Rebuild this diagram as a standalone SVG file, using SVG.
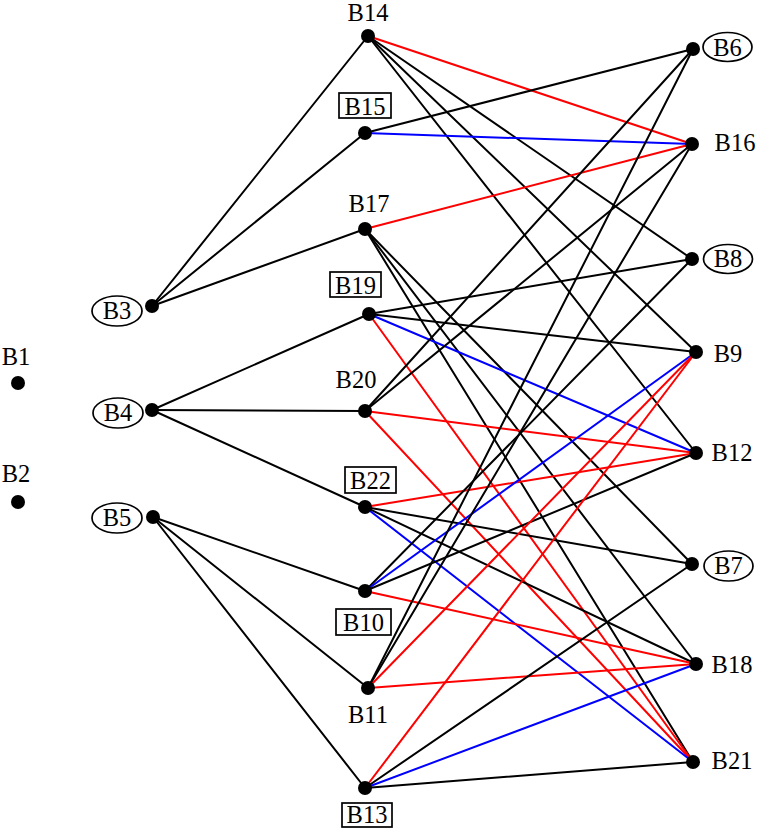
<svg xmlns="http://www.w3.org/2000/svg" width="758" height="830" viewBox="0 0 758 830">
<style>
.e{stroke-width:2;fill:none;stroke-linecap:round}
.k{stroke:#000}
.r{stroke:#ff0000}
.b{stroke:#0000ff}
.d{fill:#000}
.t{font-family:"Liberation Serif","Times New Roman",serif;font-size:24.5px;fill:#000;text-anchor:middle}
.o{fill:#fff;stroke:#000;stroke-width:1.7}
</style>
<rect width="758" height="830" fill="#fff"/>
<g id="edges">
<line class="e k" x1="152" y1="306" x2="368" y2="36"/>
<line class="e k" x1="152" y1="306" x2="365" y2="133"/>
<line class="e k" x1="152" y1="306" x2="365" y2="229"/>
<line class="e k" x1="152" y1="410" x2="369" y2="314"/>
<line class="e k" x1="152" y1="410" x2="365" y2="411"/>
<line class="e k" x1="152" y1="410" x2="365" y2="507"/>
<line class="e k" x1="153" y1="517" x2="365" y2="591"/>
<line class="e k" x1="153" y1="517" x2="368" y2="688"/>
<line class="e k" x1="153" y1="517" x2="365" y2="788"/>
<line class="e r" x1="368" y1="36" x2="692" y2="144"/>
<line class="e k" x1="368" y1="36" x2="692" y2="259"/>
<line class="e k" x1="368" y1="36" x2="696" y2="352"/>
<line class="e k" x1="368" y1="36" x2="696" y2="453"/>
<line class="e k" x1="365" y1="133" x2="693" y2="49"/>
<line class="e b" x1="365" y1="133" x2="692" y2="144"/>
<line class="e r" x1="365" y1="229" x2="692" y2="144"/>
<line class="e k" x1="365" y1="229" x2="692" y2="564"/>
<line class="e k" x1="365" y1="229" x2="696" y2="664"/>
<line class="e k" x1="365" y1="229" x2="693" y2="762"/>
<line class="e k" x1="369" y1="314" x2="692" y2="259"/>
<line class="e k" x1="369" y1="314" x2="696" y2="352"/>
<line class="e b" x1="369" y1="314" x2="696" y2="453"/>
<line class="e r" x1="369" y1="314" x2="693" y2="762"/>
<line class="e k" x1="365" y1="411" x2="693" y2="49"/>
<line class="e k" x1="365" y1="411" x2="692" y2="144"/>
<line class="e r" x1="365" y1="411" x2="696" y2="453"/>
<line class="e r" x1="365" y1="411" x2="693" y2="762"/>
<line class="e r" x1="365" y1="507" x2="696" y2="453"/>
<line class="e k" x1="365" y1="507" x2="692" y2="564"/>
<line class="e k" x1="365" y1="507" x2="696" y2="664"/>
<line class="e b" x1="365" y1="507" x2="693" y2="762"/>
<line class="e k" x1="365" y1="591" x2="692" y2="259"/>
<line class="e b" x1="365" y1="591" x2="696" y2="352"/>
<line class="e k" x1="365" y1="591" x2="696" y2="453"/>
<line class="e r" x1="365" y1="591" x2="696" y2="664"/>
<line class="e k" x1="368" y1="688" x2="693" y2="49"/>
<line class="e k" x1="368" y1="688" x2="692" y2="144"/>
<line class="e r" x1="368" y1="688" x2="696" y2="352"/>
<line class="e r" x1="368" y1="688" x2="696" y2="664"/>
<line class="e r" x1="365" y1="788" x2="696" y2="352"/>
<line class="e k" x1="365" y1="788" x2="692" y2="564"/>
<line class="e b" x1="365" y1="788" x2="696" y2="664"/>
<line class="e k" x1="365" y1="788" x2="693" y2="762"/>
</g>
<g id="B1"><circle class="d" cx="18" cy="383" r="7"/><text class="t" x="16" y="365">B1</text></g>
<g id="B2"><circle class="d" cx="18" cy="502" r="7"/><text class="t" x="16" y="482">B2</text></g>
<g id="B3"><ellipse class="o" cx="117" cy="311" rx="25" ry="15"/><circle class="d" cx="152" cy="306" r="7"/><text class="t" x="117" y="319">B3</text></g>
<g id="B4"><ellipse class="o" cx="118" cy="413" rx="25" ry="15"/><circle class="d" cx="152" cy="410" r="7"/><text class="t" x="118" y="421">B4</text></g>
<g id="B5"><ellipse class="o" cx="117" cy="518" rx="25" ry="15"/><circle class="d" cx="153" cy="517" r="7"/><text class="t" x="117" y="526">B5</text></g>
<g id="B14"><circle class="d" cx="368" cy="36" r="7"/><text class="t" x="368" y="21">B14</text></g>
<g id="B15"><rect class="o" x="339" y="93" width="52" height="25"/><circle class="d" cx="365" cy="133" r="7"/><text class="t" x="365" y="115">B15</text></g>
<g id="B17"><circle class="d" cx="365" cy="229" r="7"/><text class="t" x="369" y="212">B17</text></g>
<g id="B19"><rect class="o" x="330" y="272" width="51" height="25"/><circle class="d" cx="369" cy="314" r="7"/><text class="t" x="355.5" y="293.5">B19</text></g>
<g id="B20"><circle class="d" cx="365" cy="411" r="7"/><text class="t" x="356" y="388">B20</text></g>
<g id="B22"><rect class="o" x="345" y="467" width="51" height="26"/><circle class="d" cx="365" cy="507" r="7"/><text class="t" x="370.5" y="489">B22</text></g>
<g id="B10"><rect class="o" x="336" y="609" width="55" height="26"/><circle class="d" cx="365" cy="591" r="7"/><text class="t" x="363.5" y="631">B10</text></g>
<g id="B11"><circle class="d" cx="368" cy="688" r="7"/><text class="t" x="368" y="723">B11</text></g>
<g id="B13"><rect class="o" x="342" y="803" width="50" height="24"/><circle class="d" cx="365" cy="788" r="7"/><text class="t" x="367" y="823">B13</text></g>
<g id="B6"><ellipse class="o" cx="727.5" cy="47" rx="24.5" ry="14.5"/><circle class="d" cx="693" cy="49" r="7"/><text class="t" x="727.5" y="56">B6</text></g>
<g id="B16"><circle class="d" cx="692" cy="144" r="7"/><text class="t" x="735" y="151">B16</text></g>
<g id="B8"><ellipse class="o" cx="728" cy="259" rx="24.5" ry="14.5"/><circle class="d" cx="692" cy="259" r="7"/><text class="t" x="728" y="267">B8</text></g>
<g id="B9"><circle class="d" cx="696" cy="352" r="7"/><text class="t" x="728" y="362">B9</text></g>
<g id="B12"><circle class="d" cx="696" cy="453" r="7"/><text class="t" x="732" y="461">B12</text></g>
<g id="B7"><ellipse class="o" cx="728.5" cy="566" rx="24.5" ry="15"/><circle class="d" cx="692" cy="564" r="7"/><text class="t" x="728.5" y="574">B7</text></g>
<g id="B18"><circle class="d" cx="696" cy="664" r="7"/><text class="t" x="732" y="673">B18</text></g>
<g id="B21"><circle class="d" cx="693" cy="762" r="7"/><text class="t" x="732" y="769">B21</text></g>
</svg>
